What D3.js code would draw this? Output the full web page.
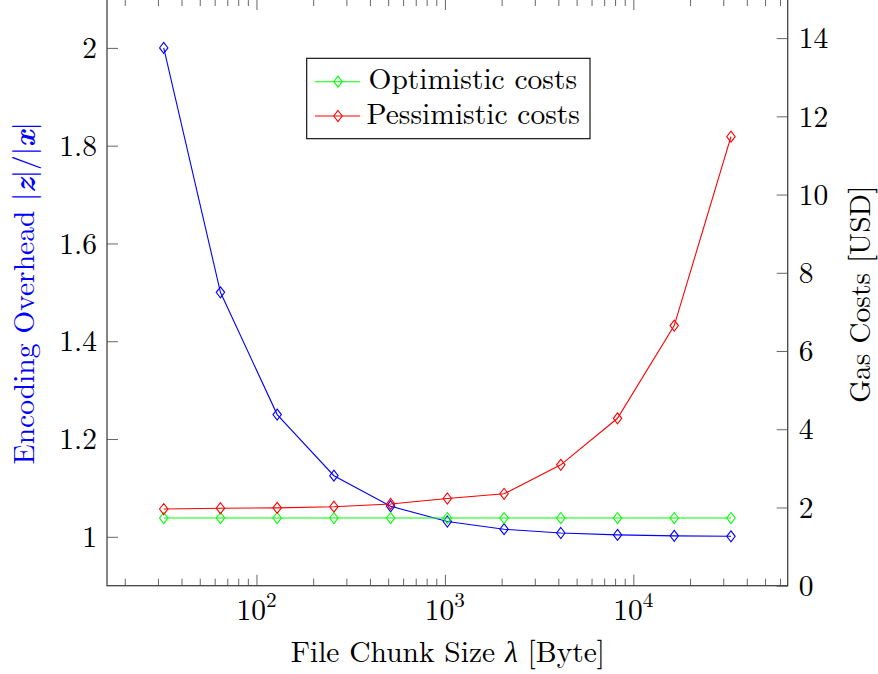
<!DOCTYPE html>
<html>
<head>
<meta charset="utf-8">
<script src="https://cdn.jsdelivr.net/npm/d3@7/dist/d3.min.js"></script>
<style>
  html, body { margin: 0; padding: 0; background: #fff; }
  svg { display: block; }
</style>
</head>
<body>
<svg id="chart" width="878" height="674"></svg>
<script>
// ---- data ----
const chunkSizes   = [32, 64, 128, 256, 512, 1024, 2048, 4096, 8192, 16384, 32768];
const overhead     = [2.0, 1.5, 1.25, 1.125, 1.0625, 1.03125, 1.0156, 1.0078, 1.0039, 1.002, 1.001];
const optimistic   = [1.73, 1.73, 1.73, 1.73, 1.73, 1.73, 1.73, 1.73, 1.73, 1.73, 1.73];
const pessimistic  = [1.96, 1.98, 1.99, 2.02, 2.09, 2.23, 2.35, 3.09, 4.28, 6.65, 11.48];
const leftTicks    = [1, 1.2, 1.4, 1.6, 1.8, 2];
const rightTicks   = [0, 2, 4, 6, 8, 10, 12, 14];
const xMajorExp    = [2, 3, 4];
const legendLabels = ["Optimistic costs", "Pessimistic costs"];

// ---- layout ----
const L = 107, R = 787.7, T = -1, B = 585.7;
const FS = 29.5;
const FONT = '"Latin Modern Roman", "CMU Serif", "Liberation Serif", serif';
const axisColor = "#444";

const svg = d3.select("#chart");

const x  = d3.scaleLog().domain([16, 65536]).range([L, R]);
const yL = d3.scaleLinear().domain([0.9, 2.1]).range([B, T]);
const yR = d3.scaleLinear().domain([0, 15]).range([B, T]);

function txt(sel) { return sel.style("font-family", FONT).style("font-size", FS + "px"); }

// ---- x ticks (bottom & top) ----
const allX = x.ticks().filter(v => v >= 16 && v <= 65536);
const isMajor = v => Math.abs(Math.log10(v) - Math.round(Math.log10(v))) < 1e-9;
const gx = svg.append("g");
allX.forEach(v => {
  const len = isMajor(v) ? 11 : 7;
  const xp = x(v);
  gx.append("line").attr("x1", xp).attr("x2", xp).attr("y1", B).attr("y2", B - len)
    .attr("stroke", "#666").attr("stroke-width", 1);
  gx.append("line").attr("x1", xp).attr("x2", xp).attr("y1", T).attr("y2", T + len)
    .attr("stroke", "#666").attr("stroke-width", 1);
});
xMajorExp.forEach(e => {
  const t = txt(gx.append("text"))
    .attr("x", x(Math.pow(10, e)) - 0.5)
    .attr("y", 619.5)
    .attr("text-anchor", "middle");
  t.append("tspan").text("10");
  t.append("tspan").style("font-size", (FS * 0.72) + "px").attr("dy", -12.5).text(String(e));
});

// ---- left axis ----
const axL = d3.axisLeft(yL).tickValues(leftTicks).tickSize(-11).tickPadding(10)
  .tickFormat(d => String(+d.toFixed(1)));
const gL = svg.append("g").attr("transform", `translate(${L},0)`).call(axL);
gL.select(".domain").remove();
gL.selectAll(".tick line").attr("stroke", "#666");
txt(gL.selectAll(".tick text")).attr("fill", "#000").attr("dy", "0.33em");

// ---- right axis ----
const axR = d3.axisRight(yR).tickValues(rightTicks).tickSize(-11).tickPadding(11)
  .tickFormat(d => String(d));
const gR = svg.append("g").attr("transform", `translate(${R},0)`).call(axR);
gR.select(".domain").remove();
gR.selectAll(".tick line").attr("stroke", "#666");
txt(gR.selectAll(".tick text")).attr("fill", "#000").attr("dy", "0.33em");

// ---- frame ----
svg.append("rect").attr("x", L).attr("y", T).attr("width", R - L).attr("height", B - T)
  .attr("fill", "none").attr("stroke", axisColor).attr("stroke-width", 1.3);

// ---- series ----
function drawSeries(values, yScale, color) {
  const pts = chunkSizes.map((c, i) => [x(c), yScale(values[i])]);
  svg.append("path")
    .attr("d", d3.line()(pts))
    .attr("fill", "none").attr("stroke", color).attr("stroke-width", 1.1);
  svg.append("g").selectAll("path").data(pts).join("path")
    .attr("d", d => `M${d[0]},${d[1] - 5.5}L${d[0] + 4.2},${d[1]}L${d[0]},${d[1] + 5.5}L${d[0] - 4.2},${d[1]}Z`)
    .attr("fill", "none").attr("stroke", color).attr("stroke-width", 1.1);
}
drawSeries(overhead, yL, "#0000ff");
drawSeries(optimistic, yR, "#00ff00");
drawSeries(pessimistic, yR, "#ff0000");

// ---- axis titles ----
const xt = txt(svg.append("text"))
  .attr("x", (L + R) / 2 + 0.5).attr("y", 662)
  .attr("text-anchor", "middle");
xt.append("tspan").text("File Chunk Size ");
xt.append("tspan").style("font-style", "italic").text("λ");
xt.append("tspan").text(" [Byte]");

const lt = txt(svg.append("text"))
  .attr("transform", `translate(33.5,${(T + B) / 2 + 1}) rotate(-90)`)
  .attr("text-anchor", "middle").attr("fill", "#0000ff");
lt.append("tspan").text("Encoding Overhead |");
lt.append("tspan").style("font-weight", "bold").style("font-style", "italic").text("z");
lt.append("tspan").text("|/|");
lt.append("tspan").style("font-weight", "bold").style("font-style", "italic").text("x");
lt.append("tspan").text("|");

txt(svg.append("text"))
  .attr("transform", `translate(870,${(T + B) / 2 + 2}) rotate(-90)`)
  .attr("text-anchor", "middle").attr("fill", "#000")
  .text("Gas Costs [USD]");

// ---- legend ----
const lg = svg.append("g");
lg.append("rect").attr("x", 306.7).attr("y", 58.3).attr("width", 283.3).attr("height", 80.4)
  .attr("fill", "#fff").attr("stroke", "#000").attr("stroke-width", 1.1);
const legendColors = ["#00ff00", "#ff0000"];
const rowY = [81.7, 116];
legendLabels.forEach((lab, i) => {
  const cy = rowY[i];
  lg.append("line").attr("x1", 315).attr("x2", 360).attr("y1", cy).attr("y2", cy)
    .attr("stroke", legendColors[i]).attr("stroke-width", 1.1);
  lg.append("path")
    .attr("d", `M338,${cy - 5.5}L342.2,${cy}L338,${cy + 5.5}L333.8,${cy}Z`)
    .attr("fill", "none").attr("stroke", legendColors[i]).attr("stroke-width", 1.1);
  txt(lg.append("text")).attr("x", i === 0 ? 368.5 : 366.5).attr("y", cy + 7.6)
    .attr("fill", "#000")
    .text(lab);
});
</script>
</body>
</html>
